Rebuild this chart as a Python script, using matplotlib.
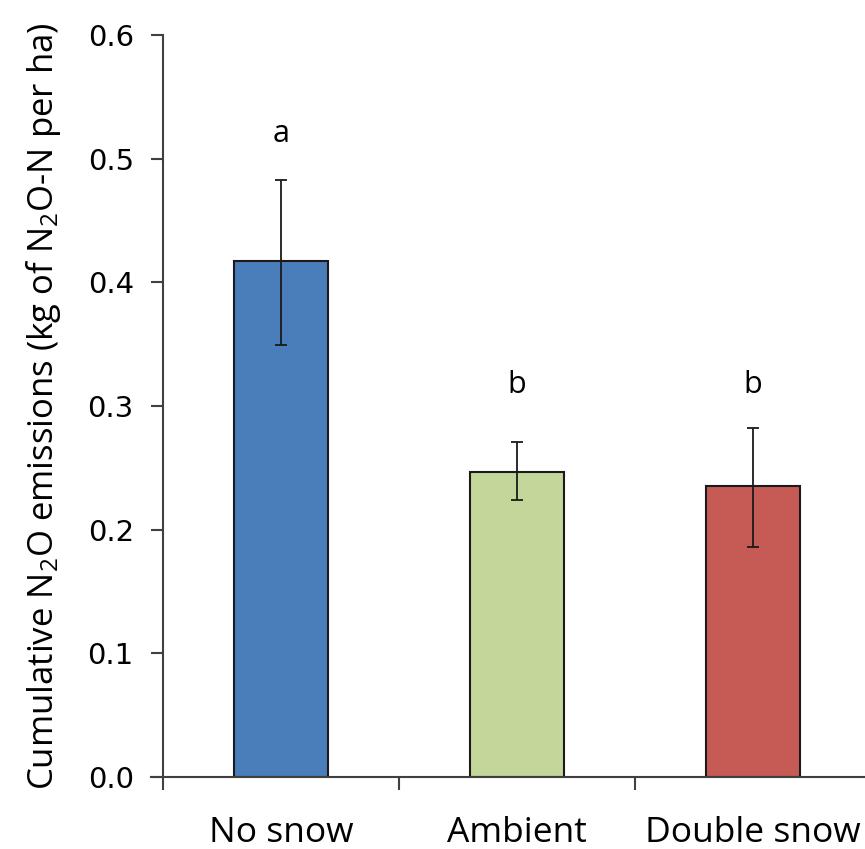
import matplotlib
matplotlib.use("Agg")
import matplotlib.pyplot as plt

categories = ["No snow", "Ambient", "Double snow"]
values = [0.417, 0.247, 0.235]
err_upper = [0.483, 0.271, 0.282]
err_lower = [0.349, 0.224, 0.186]
letters = ["a", "b", "b"]
letter_y = [0.52, 0.317, 0.317]
colors = ["#4A7EBB", "#C4D79B", "#C65B55"]
yticks = [0.0, 0.1, 0.2, 0.3, 0.4, 0.5, 0.6]

txtfont = "Open Sans"
plt.rcParams["mathtext.fontset"] = "custom"
plt.rcParams["mathtext.rm"] = txtfont
plt.rcParams["mathtext.default"] = "rm"

fig = plt.figure(figsize=(8.65, 8.49), dpi=100)
ax = fig.add_axes([163/865, 1-777/849, 708/865, 742/849])

x = list(range(len(categories)))
yerr = [[v - lo for v, lo in zip(values, err_lower)],
        [hi - v for v, hi in zip(values, err_upper)]]
ax.bar(x, values, width=0.4, color=colors, edgecolor="#1a1a1a", linewidth=1.5, zorder=2)
ax.errorbar(x, values, yerr=yerr, fmt="none", ecolor="#1a1a1a", elinewidth=1.3,
            capsize=4, capthick=1.3, zorder=3)
for xi, t, ly in zip(x, letters, letter_y):
    ax.text(xi, ly, t, ha="center", va="center", fontsize=22, family=txtfont)

ax.set_xlim(-0.5, 2.5)
ax.set_ylim(0, 0.6)
ax.set_yticks(yticks)
ax.set_yticklabels([f"{t:.1f}" for t in yticks], fontsize=21, family="DejaVu Sans")
ax.set_xticks([-0.5, 0.5, 1.5, 2.5])
ax.set_xticklabels([])
ax.set_xticks(x, minor=True)
ax.set_xticklabels(categories, minor=True, fontsize=25.5, family=txtfont)
ax.tick_params(axis="x", which="minor", length=0, pad=28)
ax.tick_params(axis="x", which="major", length=9, width=1.5, color="#404040", direction="out")
ax.tick_params(axis="y", length=9, width=1.5, color="#404040", direction="out", pad=12)
for s in ["top", "right"]:
    ax.spines[s].set_visible(False)
for s in ["left", "bottom"]:
    ax.spines[s].set_linewidth(1.5)
    ax.spines[s].set_color("#404040")
ax.spines["bottom"].set_bounds(-0.55, 2.5)

ax.set_ylabel("Cumulative N$_2$O emissions (kg of N$_2$O-N per ha)", fontsize=25, family=txtfont, labelpad=18)

fig.savefig("out.png", dpi=100)
